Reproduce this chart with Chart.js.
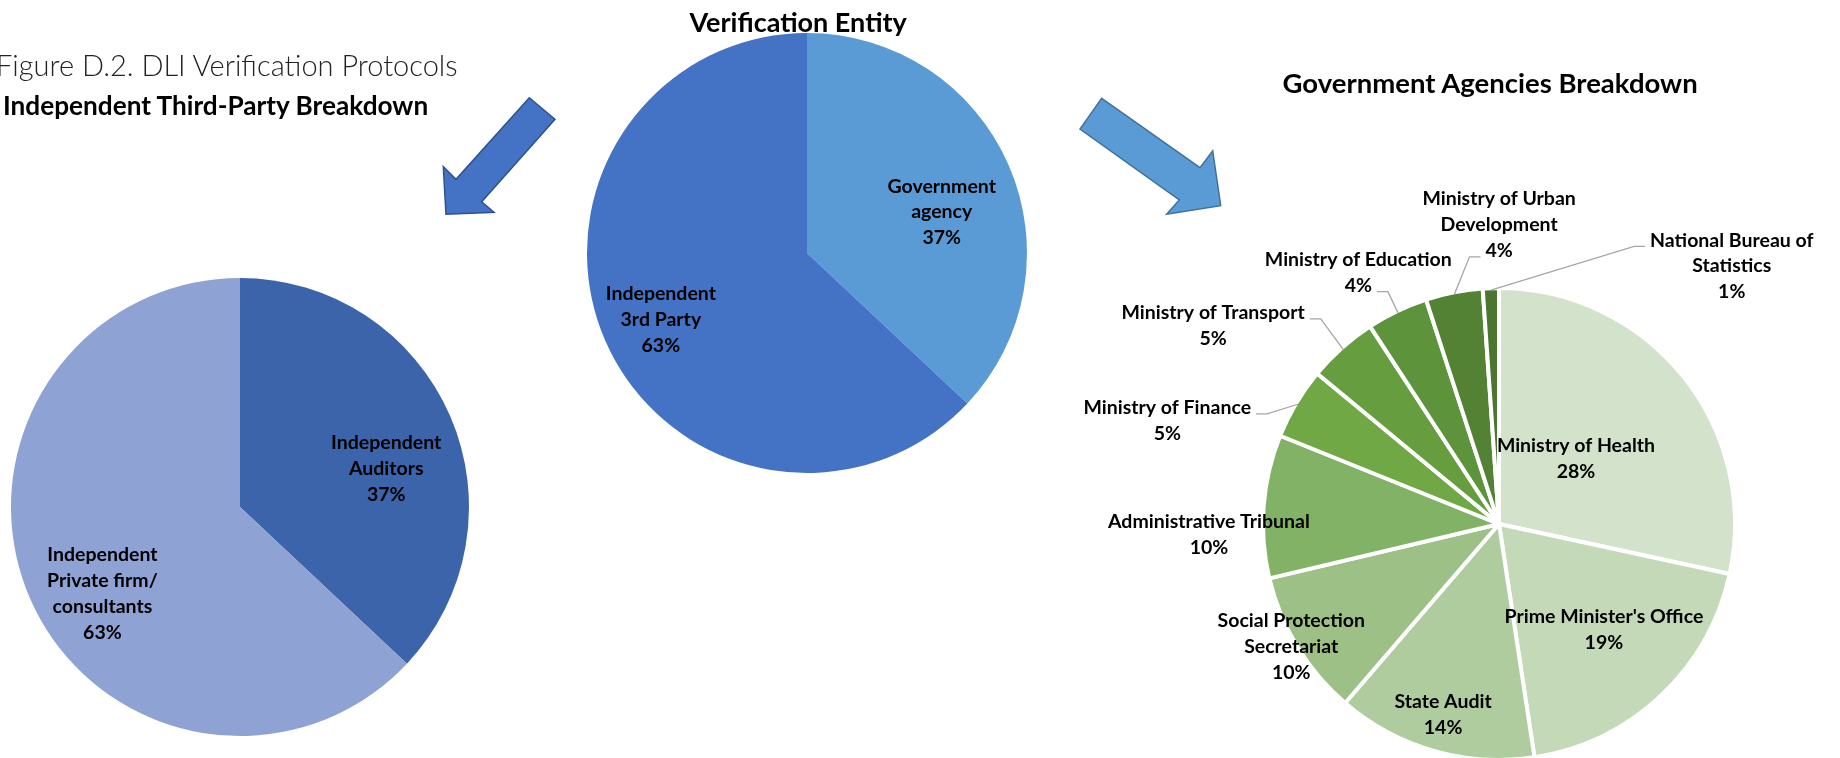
<!DOCTYPE html>
<html lang="en">
<head>
    <meta charset="UTF-8">
    <title>Figure D.2. DLI Verification Protocols</title>
    <script src="https://cdn.jsdelivr.net/npm/chart.js"></script>
    <style>
        body {
            margin: 0;
            width: 1840px;
            height: 758px;
            overflow: hidden;
            background: #fff;
            font-family: 'Lato', 'Liberation Sans', sans-serif;
            position: relative;
        }
        .ttl {
            position: absolute;
            white-space: nowrap;
            line-height: 1;
            color: #000;
        }
        .bold { font-weight: 700; }
        .light { font-weight: 300; color: #222; }
        canvas.pie, #arrows { position: absolute; }
    </style>
</head>
<body>
    <canvas id="arrows" width="1840" height="758" style="left:0; top:0"></canvas>

    <div class="ttl light" style="left:-4px; top:50px; font-size:29px">Figure D.2. DLI Verification Protocols</div>
    <div class="ttl bold" style="left:3px; top:92px; font-size:26.2px">Independent Third-Party Breakdown</div>
    <div class="ttl bold" id="midTitle" style="top:8px; font-size:27px">Verification Entity</div>
    <div class="ttl bold" id="rightTitle" style="top:69px; font-size:27.5px">Government Agencies Breakdown</div>

    <canvas class="pie" id="thirdPartyChart" width="480" height="480" style="left:0; top:267px"></canvas>
    <canvas class="pie" id="entityChart" width="460" height="460" style="left:577px; top:23px"></canvas>
    <canvas class="pie" id="agencyChart" width="880" height="760" style="left:1059px; top:144px"></canvas>

    <script>
        // Verification entity (centre pie)
        const entityLabels = [['Government', 'agency'], ['Independent', '3rd Party']];
        const entityValues = [37, 63];

        // Independent third-party breakdown (left pie)
        const thirdPartyLabels = [['Independent', 'Auditors'], ['Independent', 'Private firm/', 'consultants']];
        const thirdPartyValues = [37, 63];

        // Government agencies breakdown (right pie)
        const agencyLabels = [
            ['Ministry of Health'],
            ["Prime Minister's Office"],
            ['State Audit'],
            ['Social Protection', 'Secretariat'],
            ['Administrative Tribunal'],
            ['Ministry of Finance'],
            ['Ministry of Transport'],
            ['Ministry of Education'],
            ['Ministry of Urban', 'Development'],
            ['National Bureau of', 'Statistics']
        ];
        const agencyValues = [28.4, 19.2, 13.7, 10.0, 9.8, 4.9, 4.8, 4.2, 3.9, 1.1];

        const LABEL_FONT = 'bold 19.5px Lato, "Liberation Sans", sans-serif';
        const LINE_H = 25.8;

        // centre the two titles over their points
        function centerTitle(id, cx) {
            const el = document.getElementById(id);
            el.style.left = (cx - el.offsetWidth / 2) + 'px';
        }
        centerTitle('midTitle', 798);
        centerTitle('rightTitle', 1490);

        // block arrows between the pies
        function drawArrow(ctx, pts, fill, stroke) {
            ctx.beginPath();
            ctx.moveTo(pts[0][0], pts[0][1]);
            pts.slice(1).forEach(p => ctx.lineTo(p[0], p[1]));
            ctx.closePath();
            ctx.fillStyle = fill;
            ctx.fill();
            ctx.lineWidth = 1.5;
            ctx.strokeStyle = stroke;
            ctx.stroke();
        }
        const actx = document.getElementById('arrows').getContext('2d');
        drawArrow(actx, [[529.3, 97.7], [555, 119.3], [481.7, 201.7], [494, 212.3], [446, 214.3], [443.3, 166.7], [456, 179.3]], '#4472C4', '#2F528F');
        drawArrow(actx, [[1101.7, 98.3], [1200, 167.7], [1212.7, 151], [1220.7, 205.7], [1166.7, 214.3], [1179.3, 200], [1080, 129]], '#5B9BD5', '#41719C');

        // data labels: name lines + percentage, placed around each slice's mid angle
        const sliceLabels = {
            id: 'sliceLabels',
            afterDatasetsDraw(chart, args, opts) {
                const ctx = chart.ctx;
                const meta = chart.getDatasetMeta(0);
                const values = chart.data.datasets[0].data;
                const total = values.reduce((a, b) => a + b, 0);
                ctx.save();
                ctx.font = LABEL_FONT;
                ctx.textAlign = 'center';
                ctx.textBaseline = 'middle';
                meta.data.forEach((arc, i) => {
                    const lines = chart.data.labels[i].concat(Math.round(values[i] / total * 100) + '%');
                    const mid = (arc.startAngle + arc.endAngle) / 2;
                    const [dA, rho] = opts.place[i];
                    const a = mid + dA * Math.PI / 180;
                    const cx = arc.x + Math.cos(a) * arc.outerRadius * rho;
                    const cy = arc.y + Math.sin(a) * arc.outerRadius * rho;
                    const top = cy - (lines.length - 1) * LINE_H / 2;

                    ctx.fillStyle = '#000';
                    lines.forEach((t, k) => ctx.fillText(t, cx, top + k * LINE_H));

                    const li = opts.leader ? opts.leader[i] : null;
                    if (li != null) {
                        const r0 = arc.outerRadius - 2;
                        const px = arc.x + Math.cos(mid) * r0;
                        const py = arc.y + Math.sin(mid) * r0;
                        const w = ctx.measureText(lines[li]).width;
                        const onRight = px > cx;
                        const ex = onRight ? cx + w / 2 + 5 : cx - w / 2 - 5;
                        const ey = top + li * LINE_H + 6;
                        const bx = ex + (onRight ? 11 : -11);
                        ctx.beginPath();
                        ctx.moveTo(px, py);
                        ctx.lineTo(bx, ey);
                        ctx.lineTo(ex, ey);
                        ctx.strokeStyle = '#A6A6A6';
                        ctx.lineWidth = 1.3;
                        ctx.stroke();
                    }
                });
                ctx.restore();
            }
        };

        function makePie(id, labels, values, colors, radius, border, labelOpts) {
            return new Chart(document.getElementById(id), {
                type: 'pie',
                data: {
                    labels: labels,
                    datasets: [{
                        data: values,
                        backgroundColor: colors,
                        borderColor: '#fff',
                        borderWidth: border,
                        radius: radius
                    }]
                },
                options: {
                    responsive: false,
                    animation: false,
                    events: [],
                    layout: { padding: 0 },
                    plugins: {
                        legend: { display: false },
                        tooltip: { enabled: false },
                        sliceLabels: labelOpts
                    }
                },
                plugins: [sliceLabels]
            });
        }

        makePie('entityChart', entityLabels, entityValues, ['#5B9BD5', '#4472C4'], 220, 0, {
            place: [[6.5, 0.64], [-1.1, 0.73]]
        });

        makePie('thirdPartyChart', thirdPartyLabels, thirdPartyValues, ['#3C64AA', '#8FA2D4'], 229, 0, {
            place: [[8.7, 0.66], [-8.8, 0.71]]
        });

        makePie('agencyChart', agencyLabels, agencyValues,
            ['#D3E2CA', '#C4D9B7', '#AECC9E', '#9DC087', '#81B265', '#70A845', '#659D3F', '#5D933A', '#548235', '#4B7630'],
            236, 4, {
                place: [[-1.5, 0.428], [-1.5, 0.632], [0.3, 0.843], [0.8, 1.022], [-6.5, 1.23],
                        [-13.5, 1.472], [-13.5, 1.474], [-3.7, 1.22], [11.0, 1.267], [44.05, 1.472]],
                leader: [null, null, null, null, null, 0, 0, 1, 2, 0]
            });
    </script>
</body>
</html>
